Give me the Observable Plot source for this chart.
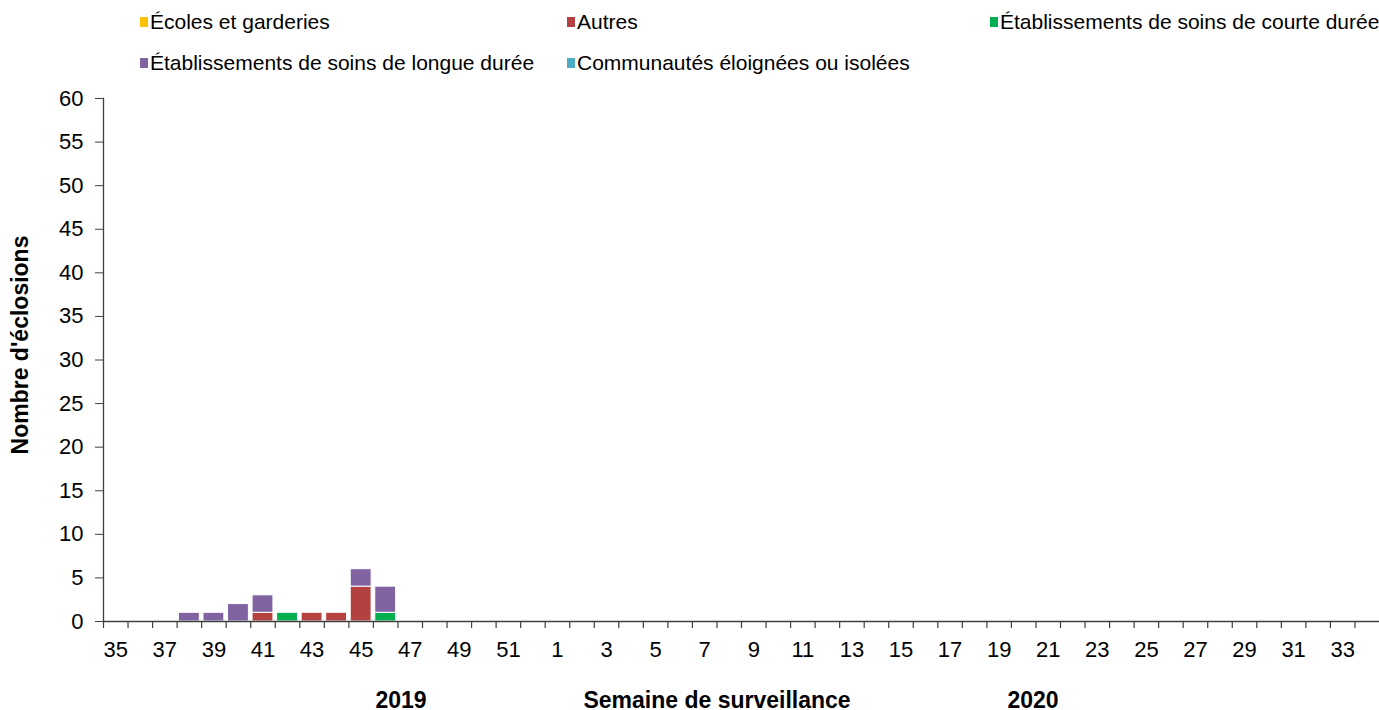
<!DOCTYPE html>
<html>
<head>
<meta charset="utf-8">
<script src="https://cdn.jsdelivr.net/npm/d3@7"></script>
<script src="https://cdn.jsdelivr.net/npm/@observablehq/plot@0.6"></script>
<style>
html, body { margin: 0; padding: 0; background: #fff; overflow: hidden; width: 1379px; height: 710px;
  font-family: "Liberation Sans", Arial, sans-serif; color: #000; }
#legend { position: relative; height: 80px; width: 1379px; }
.item { position: absolute; display: flex; align-items: center; height: 24px; font-size: 21px; white-space: nowrap; gap: 2px; }
.sw { display: inline-block; width: 8px; height: 10px; }
#chart { height: 590px; }
#caption { position: relative; height: 40px; width: 1379px; }
.cap { position: absolute; font-weight: bold; font-size: 23px; transform: translate(-50%, -50%); white-space: nowrap; }
</style>
</head>
<body>
<div id="legend"></div>
<div id="chart"></div>
<div id="caption"></div>
<script>
// Surveillance weeks: 2019 (35–52) then 2020 (1–34)
const weeks = ["35","36","37","38","39","40","41","42","43","44","45","46","47","48","49","50","51","52",
  "1","2","3","4","5","6","7","8","9","10","11","12","13","14","15","16","17","18","19","20",
  "21","22","23","24","25","26","27","28","29","30","31","32","33","34"];

const categories = [
  "Écoles et garderies",
  "Autres",
  "Établissements de soins de courte durée",
  "Établissements de soins de longue durée",
  "Communautés éloignées ou isolées"
];
const colors = ["#FFC000", "#B3413F", "#00B050", "#8064A2", "#4BACC6"];

//                    35 36 37 38 39 40 41 42 43 44 45 46 47 48 49 50 51 52 | 1..34
const ecoles      = [0, 0, 0, 0, 0, 0, 0, 0, 0, 0, 0, 0, 0, 0, 0, 0, 0, 0,
  0,0,0,0,0,0,0,0,0,0,0,0,0,0,0,0,0,0,0,0,0,0,0,0,0,0,0,0,0,0,0,0,0,0];
const autres      = [0, 0, 0, 0, 0, 0, 1, 0, 1, 1, 4, 0, 0, 0, 0, 0, 0, 0,
  0,0,0,0,0,0,0,0,0,0,0,0,0,0,0,0,0,0,0,0,0,0,0,0,0,0,0,0,0,0,0,0,0,0];
const courte      = [0, 0, 0, 0, 0, 0, 0, 1, 0, 0, 0, 1, 0, 0, 0, 0, 0, 0,
  0,0,0,0,0,0,0,0,0,0,0,0,0,0,0,0,0,0,0,0,0,0,0,0,0,0,0,0,0,0,0,0,0,0];
const longue      = [0, 0, 0, 1, 1, 2, 2, 0, 0, 0, 2, 3, 0, 0, 0, 0, 0, 0,
  0,0,0,0,0,0,0,0,0,0,0,0,0,0,0,0,0,0,0,0,0,0,0,0,0,0,0,0,0,0,0,0,0,0];
const communautes = [0, 0, 0, 0, 0, 0, 0, 0, 0, 0, 0, 0, 0, 0, 0, 0, 0, 0,
  0,0,0,0,0,0,0,0,0,0,0,0,0,0,0,0,0,0,0,0,0,0,0,0,0,0,0,0,0,0,0,0,0,0];

const yTicks = [0, 5, 10, 15, 20, 25, 30, 35, 40, 45, 50, 55, 60];
const yLabel = "Nombre d'éclosions";
const xTitle = "Semaine de surveillance";
const yearLabels = ["2019", "2020"];

const series = [ecoles, autres, courte, longue, communautes];
const data = [];
categories.forEach((c, k) => series[k].forEach((v, i) => {
  if (v > 0) data.push({week: weeks[i], cat: c, value: v});
}));

// Legend
const legendPos = [[140, 10], [567, 10], [990, 10], [140, 51], [567, 51]];
const legend = document.getElementById("legend");
categories.forEach((c, k) => {
  const it = document.createElement("div");
  it.className = "item";
  it.style.left = legendPos[k][0] + "px";
  it.style.top = legendPos[k][1] + "px";
  const sw = document.createElement("span");
  sw.className = "sw";
  sw.style.background = colors[k];
  const tx = document.createElement("span");
  tx.textContent = c;
  it.appendChild(sw); it.appendChild(tx);
  legend.appendChild(it);
});

const W = 1379, ML = 103, MR = 0;
const step = (W - ML - MR) / weeks.length;
const axisColor = "#404040";

const chart = Plot.plot({
  width: W, height: 590,
  marginLeft: ML, marginRight: MR, marginTop: 18, marginBottom: 49,
  style: {fontFamily: "'Liberation Sans', Arial, sans-serif", fontSize: "22px", color: "#000", background: "transparent", overflow: "visible"},
  x: {domain: weeks, paddingInner: 0.15, paddingOuter: 0.075, round: false},
  y: {domain: [0, 60]},
  color: {domain: categories, range: colors},
  marks: [
    Plot.barY(data, {x: "week", y: "value", fill: "cat", stroke: "white", strokeWidth: 1}),
    Plot.ruleY([0], {stroke: axisColor, strokeWidth: 1.3}),
    Plot.frame({anchor: "left", stroke: axisColor, strokeWidth: 1.3}),
    Plot.axisY({ticks: yTicks, tickSize: 8, tickPadding: 12, label: null, stroke: axisColor, fontSize: 22}),
    Plot.axisX({ticks: weeks.filter((w, i) => i % 2 === 0), tickSize: 0, tickPadding: 20, label: null, fontSize: 22}),
    Plot.ruleX(weeks, {x: d => d, y1: 0, y2: 0, insetBottom: -7, dx: -step / 2, stroke: axisColor, strokeWidth: 1.2}),
    Plot.text([yLabel], {text: d => d, frameAnchor: "left", textAnchor: "middle", rotate: -90, dx: -83, dy: -15, fontWeight: "bold", fontSize: 23, fill: "#000"})
  ]
});
document.getElementById("chart").appendChild(chart);

// Caption under the axis
const caption = document.getElementById("caption");
const caps = [[yearLabels[0], 401], [xTitle, 717], [yearLabels[1], 1033]];
caps.forEach(([t, x]) => {
  const d = document.createElement("div");
  d.className = "cap";
  d.style.left = x + "px";
  d.style.top = "30px";
  d.textContent = t;
  caption.appendChild(d);
});
</script>
</body>
</html>
